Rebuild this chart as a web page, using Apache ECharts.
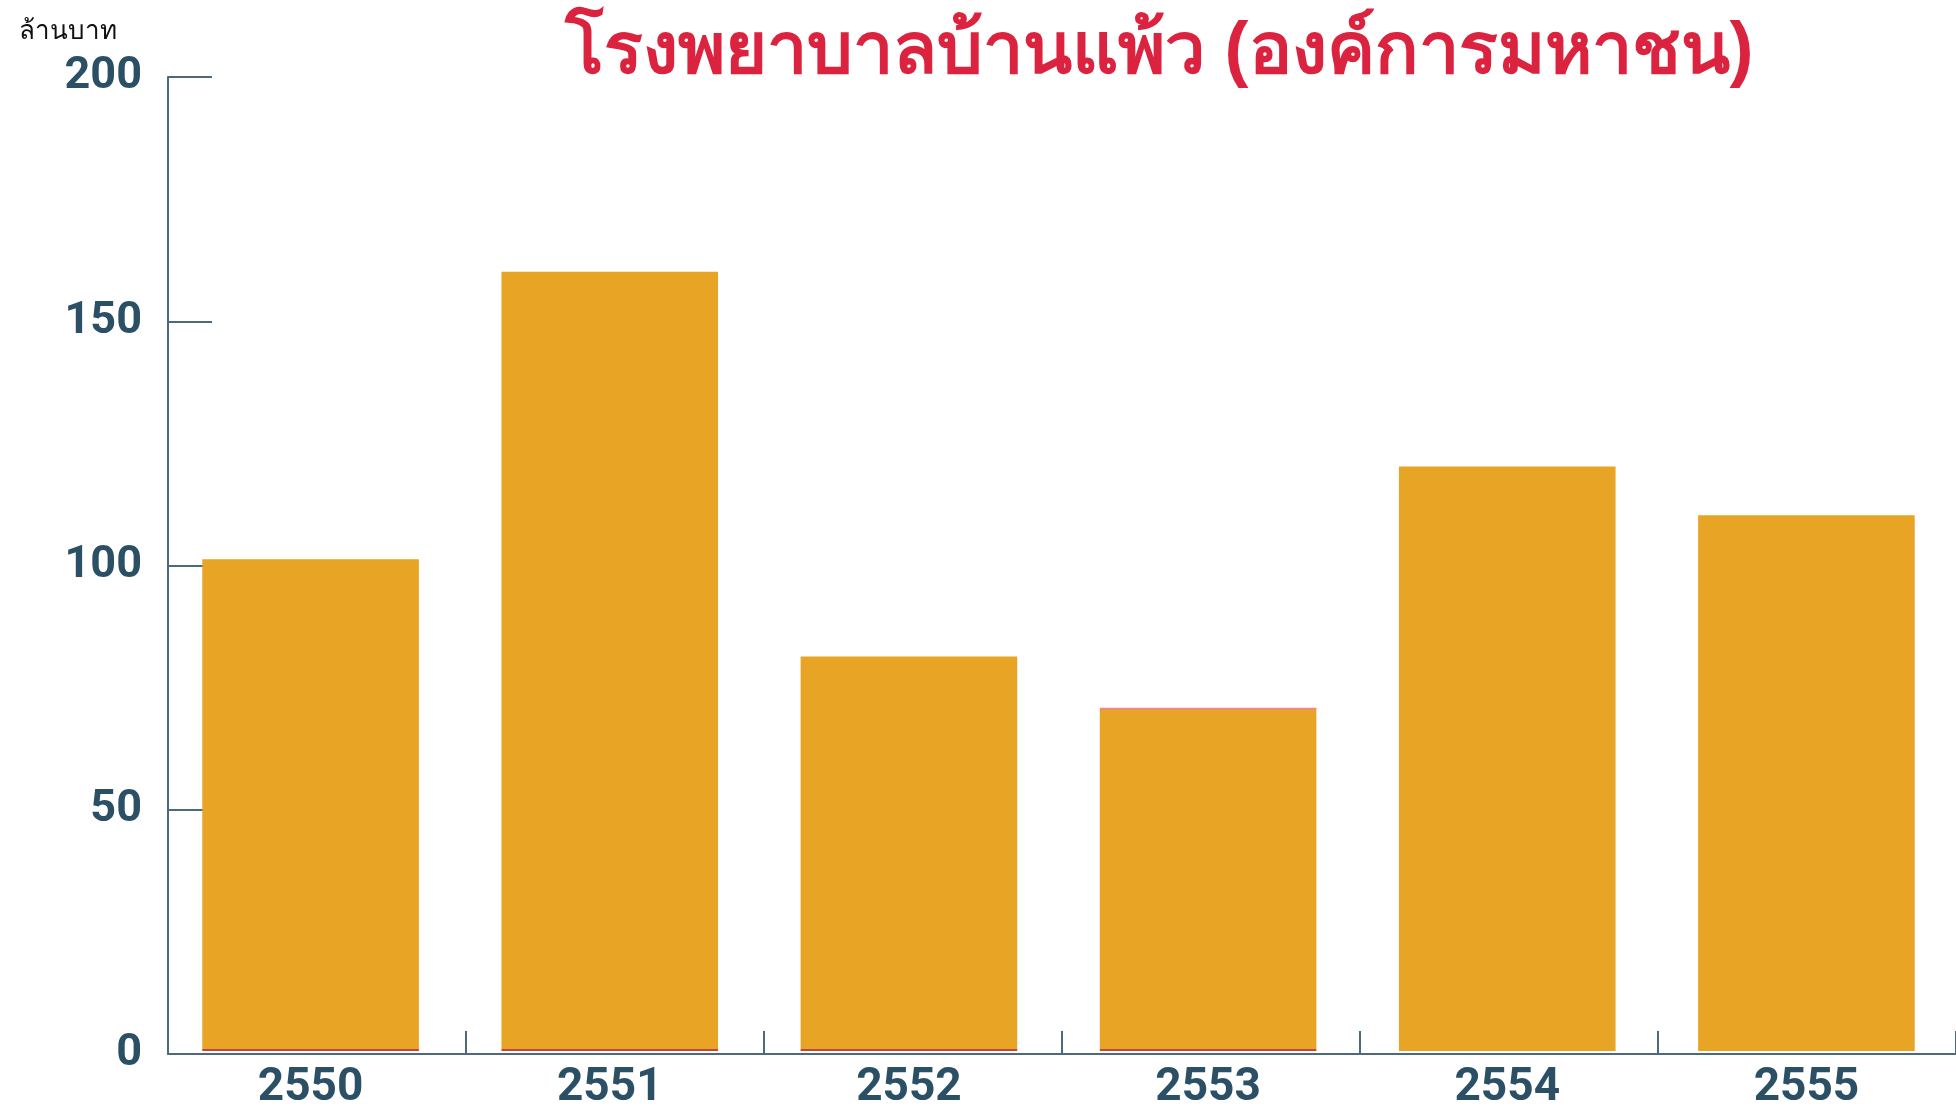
<!DOCTYPE html>
<html>
<head>
<meta charset="utf-8">
<script src="https://cdn.jsdelivr.net/npm/echarts@6/dist/echarts.min.js"></script>
<style>
  html, body { margin: 0; padding: 0; background: #fff; }
  #chart { width: 1956px; height: 1111px; }
</style>
</head>
<body>
<div id="chart"></div>
<script>
const years = ['2550', '2551', '2552', '2553', '2554', '2555']
// orange part of each bar (the thin strips below/above are read separately)
const revenue = [100.6, 159.6, 80.6, 69.6, 120, 110]
// thin red strip visible along the bottom of the first four bars
const base = [0.4, 0.4, 0.4, 0.4, 0, 0]
// thin pink edge seen on top of the 2553 bar
const edge = [0, 0, 0, 0.5, 0, 0]
const yTicks = { min: 0, max: 200, step: 50 }

const axisColor = '#4d6a7c'
const labelColor = '#2b5066'
const numFont = 'Roboto'

const chart = echarts.init(document.getElementById('chart'))

const option = {
  animation: false,
  title: [
    {
      text: 'โรงพยาบาลบ้านแพ้ว (องค์การมหาชน)',
      left: 1154,
      textAlign: 'center',
      top: 12,
      textStyle: { color: '#db2340', fontSize: 72, fontWeight: 'bold' },
    },
    {
      text: 'ล้านบาท',
      left: 14,
      top: 14,
      textStyle: { color: '#111', fontSize: 26, fontWeight: 'normal' },
    },
  ],
  grid: [
    // bars + year labels
    { left: 161, width: 1798, top: 77, bottom: 57 },
    // axis lines and ticks (sit a few px to the right of the bar bands)
    { left: 168, width: 1801, top: 77, bottom: 57 },
  ],
  xAxis: [
    {
      type: 'category',
      gridIndex: 0,
      data: years,
      axisLine: { show: false },
      axisTick: { show: false },
      axisLabel: {
        color: labelColor,
        fontFamily: numFont,
        fontWeight: 'bold',
        fontSize: 46,
        margin: 14,
      },
    },
    {
      type: 'category',
      gridIndex: 1,
      data: years,
      axisLine: { show: true, lineStyle: { color: axisColor, width: 2 } },
      axisTick: { show: true, inside: true, length: 23, lineStyle: { color: axisColor, width: 2 } },
      axisLabel: { show: false },
    },
  ],
  yAxis: [
    {
      type: 'value',
      gridIndex: 0,
      min: yTicks.min,
      max: yTicks.max,
      interval: yTicks.step,
      show: false,
    },
    {
      type: 'value',
      gridIndex: 1,
      min: yTicks.min,
      max: yTicks.max,
      interval: yTicks.step,
      splitLine: { show: false },
      axisLine: { show: true, lineStyle: { color: axisColor, width: 2 } },
      axisTick: { show: true, inside: true, length: 44, lineStyle: { color: axisColor, width: 2 } },
      axisLabel: {
        color: labelColor,
        fontFamily: numFont,
        fontWeight: 'bold',
        fontSize: 45,
        margin: 26,
      },
    },
  ],
  series: [
    {
      name: 'base',
      type: 'bar',
      xAxisIndex: 0,
      yAxisIndex: 0,
      stack: 'total',
      data: base,
      barCategoryGap: '27.6%',
      itemStyle: { color: '#c4453f' },
    },
    {
      name: 'รายได้',
      type: 'bar',
      xAxisIndex: 0,
      yAxisIndex: 0,
      stack: 'total',
      data: revenue,
      itemStyle: { color: '#e8a425' },
    },
    {
      name: 'edge',
      type: 'bar',
      xAxisIndex: 0,
      yAxisIndex: 0,
      stack: 'total',
      data: edge,
      itemStyle: { color: '#f08a7a' },
    },
  ],
}

chart.setOption(option)
</script>
</body>
</html>
